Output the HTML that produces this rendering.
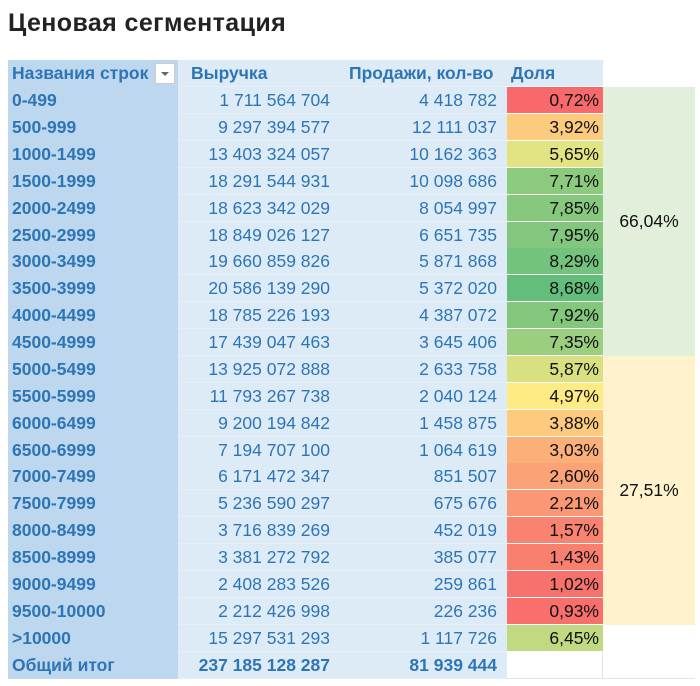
<!DOCTYPE html>
<html><head><meta charset="utf-8"><style>
body{margin:0;width:700px;height:686px;background:#fff;position:relative;overflow:hidden;font-family:"Liberation Sans","DejaVu Sans",sans-serif;}
.t{position:absolute;left:8px;top:9px;font-size:25px;font-weight:bold;color:#222;letter-spacing:0.4px}
.r{position:absolute;left:0;width:700px;height:27px;font-size:17.5px;line-height:27px}
.r div{position:absolute;top:0;height:100%;box-sizing:border-box;white-space:nowrap}
.a{left:8px;width:170px;background:#bdd7ee;color:#2e75b6;font-weight:bold;padding-left:4px}
.b{left:178px;width:163px;background:#ddebf7;color:#2e75b6;text-align:right;padding-right:11px;border-bottom:1px solid #e6f0f9}
.c{left:341px;width:166px;background:#ddebf7;color:#2e75b6;text-align:right;padding-right:10px;border-bottom:1px solid #e6f0f9}
.d{left:507px;width:96px;color:#111;text-align:right;padding-right:4px;border-bottom:1px solid #fff}
.h .b,.h .c,.h .d{text-align:left;font-weight:bold;padding-left:13px}
.h .c{padding-left:8px}.h .d{padding-left:4px;background:#ddebf7;color:#2e75b6}
.tot .b,.tot .c{font-weight:bold}
.m{position:absolute;left:603px;width:92px;font-size:17.5px;display:flex;align-items:center;justify-content:center;color:#111}
</style></head><body>
<div class="t">Ценовая сегментация</div>
<div class="r h" style="top:60px"><div class="a">Названия строк</div><div class="b">Выручка</div><div class="c">Продажи, кол-во</div><div class="d">Доля</div></div>
<div style="position:absolute;left:155px;top:63px;width:20px;height:21px;background:#fff;border:1px solid #ccc;box-sizing:border-box"><div style="position:absolute;left:5px;top:8px;border-left:4px solid transparent;border-right:4px solid transparent;border-top:4px solid #666"></div></div>
<div class="r" style="top:87px"><div class="a">0-499</div><div class="b">1 711 564 704</div><div class="c">4 418 782</div><div class="d" style="background:#f8696b">0,72%</div></div>
<div class="r" style="top:114px"><div class="a">500-999</div><div class="b">9 297 394 577</div><div class="c">12 111 037</div><div class="d" style="background:#fdcb7e">3,92%</div></div>
<div class="r" style="top:141px"><div class="a">1000-1499</div><div class="b">13 403 324 057</div><div class="c">10 162 363</div><div class="d" style="background:#e2e382">5,65%</div></div>
<div class="r" style="top:168px"><div class="a">1500-1999</div><div class="b">18 291 544 931</div><div class="c">10 098 686</div><div class="d" style="background:#8cca7d">7,71%</div></div>
<div class="r" style="top:195px"><div class="a">2000-2499</div><div class="b">18 623 342 029</div><div class="c">8 054 997</div><div class="d" style="background:#86c87d">7,85%</div></div>
<div class="r" style="top:222px"><div class="a">2500-2999</div><div class="b">18 849 026 127</div><div class="c">6 651 735</div><div class="d" style="background:#82c77d">7,95%</div></div>
<div class="r" style="top:248px"><div class="a">3000-3499</div><div class="b">19 660 859 826</div><div class="c">5 871 868</div><div class="d" style="background:#73c37c">8,29%</div></div>
<div class="r" style="top:275px"><div class="a">3500-3999</div><div class="b">20 586 139 290</div><div class="c">5 372 020</div><div class="d" style="background:#63be7b">8,68%</div></div>
<div class="r" style="top:302px"><div class="a">4000-4499</div><div class="b">18 785 226 193</div><div class="c">4 387 072</div><div class="d" style="background:#83c77d">7,92%</div></div>
<div class="r" style="top:329px"><div class="a">4500-4999</div><div class="b">17 439 047 463</div><div class="c">3 645 406</div><div class="d" style="background:#9bce7e">7,35%</div></div>
<div class="r" style="top:356px"><div class="a">5000-5499</div><div class="b">13 925 072 888</div><div class="c">2 633 758</div><div class="d" style="background:#d9e082">5,87%</div></div>
<div class="r" style="top:383px"><div class="a">5500-5999</div><div class="b">11 793 267 738</div><div class="c">2 040 124</div><div class="d" style="background:#ffeb84">4,97%</div></div>
<div class="r" style="top:410px"><div class="a">6000-6499</div><div class="b">9 200 194 842</div><div class="c">1 458 875</div><div class="d" style="background:#fdca7e">3,88%</div></div>
<div class="r" style="top:437px"><div class="a">6500-6999</div><div class="b">7 194 707 100</div><div class="c">1 064 619</div><div class="d" style="background:#fcb079">3,03%</div></div>
<div class="r" style="top:463px"><div class="a">7000-7499</div><div class="b">6 171 472 347</div><div class="c">851 507</div><div class="d" style="background:#fba276">2,60%</div></div>
<div class="r" style="top:490px"><div class="a">7500-7999</div><div class="b">5 236 590 297</div><div class="c">675 676</div><div class="d" style="background:#fa9774">2,21%</div></div>
<div class="r" style="top:517px"><div class="a">8000-8499</div><div class="b">3 716 839 269</div><div class="c">452 019</div><div class="d" style="background:#f98370">1,57%</div></div>
<div class="r" style="top:544px"><div class="a">8500-8999</div><div class="b">3 381 272 792</div><div class="c">385 077</div><div class="d" style="background:#f97f6f">1,43%</div></div>
<div class="r" style="top:571px"><div class="a">9000-9499</div><div class="b">2 408 283 526</div><div class="c">259 861</div><div class="d" style="background:#f8726d">1,02%</div></div>
<div class="r" style="top:598px"><div class="a">9500-10000</div><div class="b">2 212 426 998</div><div class="c">226 236</div><div class="d" style="background:#f86f6c">0,93%</div></div>
<div class="r" style="top:625px"><div class="a">&gt;10000</div><div class="b">15 297 531 293</div><div class="c">1 117 726</div><div class="d" style="background:#c1d980">6,45%</div></div>
<div class="r tot" style="top:652px"><div class="a">Общий итог</div><div class="b">237 185 128 287</div><div class="c">81 939 444</div><div class="d" style="border-bottom:1px solid #e4e4e4;border-right:1px solid #e4e4e4"></div></div>
<div class="m" style="top:87px;height:269px;background:#e2efda">66,04%</div>
<div class="m" style="top:356px;height:269px;background:#fff2cc">27,51%</div>
<div style="position:absolute;left:603px;top:678px;width:92px;height:1px;background:#e4e4e4"></div>
</body></html>
